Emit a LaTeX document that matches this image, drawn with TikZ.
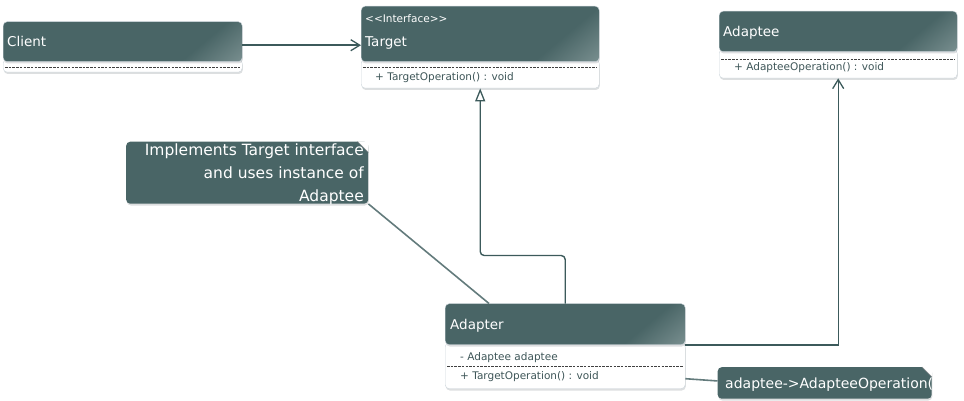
\documentclass[tikz,border=0pt]{standalone}
\usepackage{fontspec}
\setmainfont{DejaVu Sans}
\usetikzlibrary{arrows.meta,shadows}
\definecolor{hdr}{RGB}{73,101,102}
\definecolor{hdrlight}{RGB}{168,184,184}
\definecolor{member}{RGB}{62,86,88}
\definecolor{wire}{RGB}{60,90,91}
\definecolor{rim}{RGB}{204,213,219}
\pgfdeclareverticalshading{hdrshade}{100bp}{color(0bp)=(hdrlight); color(30bp)=(hdr); color(100bp)=(hdr)}
\newcommand{\titlefont}{\fontsize{13.5}{16}\selectfont}
\newcommand{\memberfont}{\fontsize{10.5}{13}\selectfont}
\tikzset{
  halo/.style={drop shadow={shadow xshift=0.6pt, shadow yshift=-1.8pt, opacity=0.3, fill=rim!70!black}},
  header/.style={anchor=north west, rounded corners=4pt, draw=rim, shading=hdrshade, shading angle=40, inner sep=0pt, halo},
  body/.style={anchor=north west, rounded corners=4pt, draw=rim, fill=white, inner sep=0pt, halo},
  title/.style={anchor=base west, inner sep=0pt, text=white, font=\titlefont},
  stereo/.style={anchor=base west, inner sep=0pt, text=white, font=\memberfont},
  item/.style={anchor=base west, inner sep=0pt, text=member, font=\memberfont},
  divider/.style={draw=black!75, line width=0.9pt, dash pattern=on 2.5pt off 1.2pt},
  note/.style={anchor=north west, rounded corners=4pt, fill=hdr, inner sep=0pt, halo},
  notetext/.style={inner sep=0pt, text=white, align=right, font=\fontsize{15.5}{23}\selectfont},
  fold/.style={fill=white!92!rim, draw=rim!60!black, line width=0.5pt},
  assoc/.style={draw=wire, line width=1.4pt, -{Straight Barb[length=9pt, width=11pt, line width=1.3pt]}},
  realize/.style={draw=wire, line width=1.4pt, rounded corners=4pt, -{Triangle[open, length=13pt, width=10pt, line width=1.3pt, fill=white]}},
  noteline/.style={draw=wire!80, line width=1.6pt}
}

\begin{document}
\begin{tikzpicture}[x=1pt, y=-1pt]
	\useasboundingbox (0,0) rectangle (964,401);

	\node[body, minimum width=239pt, minimum height=13pt] (clientbody) at (3,59) {};
	\node[header, minimum width=239pt, minimum height=40pt] (client) at (3,21.5) {};
	\node[title] (clientname) at (7,47) {Client};
	\draw[divider] (5,67.5) -- (240,67.5);

	\node[body, minimum width=238pt, minimum height=29pt] (targetbody) at (361,59) {};
	\node[header, minimum width=238pt, minimum height=55.5pt] (target) at (361,6) {};
	\node[stereo] (targetstereo) at (365,22.5) {<{}<Interface>{}>};
	\node[title] (targetname) at (365,47) {Target};
	\draw[divider] (363,67) -- (597,67);
	\node[item] (targetop) at (375,81) {+ TargetOperation() : void};

	\node[body, minimum width=238pt, minimum height=29pt] (adapteebody) at (719,49) {};
	\node[header, minimum width=238pt, minimum height=40.5pt] (adaptee) at (719,11) {};
	\node[title] (adapteename) at (723,37) {Adaptee};
	\draw[divider] (721,59) -- (955,59);
	\node[item] (adapteeop) at (734,71) {+ AdapteeOperation() : void};

	\node[body, minimum width=240pt, minimum height=46pt] (adapterbody) at (445,342.5) {};
	\node[header, minimum width=240pt, minimum height=41pt] (adapter) at (445,303.5) {};
	\node[title] (adaptername) at (450,329) {Adapter};
	\node[item] (adapterfield) at (460,360) {- Adaptee adaptee};
	\draw[divider] (447,366) -- (683,366);
	\node[item] (adapterop) at (460,379) {+ TargetOperation() : void};

	\node[note, minimum width=242pt, minimum height=62pt] (note1) at (126,141.5) {};
	\node[notetext, anchor=north east] (note1text) at (364,144)
	      {Implements Target interface\\and uses instance of\\Adaptee};
	\fill[white] ([xshift=-11pt]note1.north east) -- (note1.north east) -- ([yshift=-11pt]note1.north east) -- cycle;
	\filldraw[fold] ([xshift=-11pt]note1.north east) -- ([yshift=-11pt]note1.north east) -- ([xshift=-3pt,yshift=-8pt]note1.north east) -- cycle;

	\node[note, minimum width=214pt, minimum height=31.5pt] (note2) at (717.5,367) {};
	\node[title, font=\fontsize{14}{16}\selectfont] (note2text) at (725,388.5) {adaptee->AdapteeOperation()};
	\fill[white] ([xshift=-10pt]note2.north east) -- (note2.north east) -- ([yshift=-10pt]note2.north east) -- cycle;
	\filldraw[fold] ([xshift=-10pt]note2.north east) -- ([yshift=-10pt]note2.north east) -- ([xshift=-3pt,yshift=-7pt]note2.north east) -- cycle;

	\draw[assoc] ([yshift=-3.5pt]client.east) -- ([yshift=-3.5pt]client.east -| target.west);
	\draw[realize] (adapter.north) -- ++(0,-48) -| (targetbody.south);
	\draw[assoc] (adapter.south east) -| (adapteebody.south);
	\draw[noteline] (note1.south east) -- ([xshift=44pt]adapter.north west);
	\draw[noteline] ([yshift=-13pt]adapterbody.east) -- ([yshift=2pt]note2.west);
\end{tikzpicture}
\end{document}
